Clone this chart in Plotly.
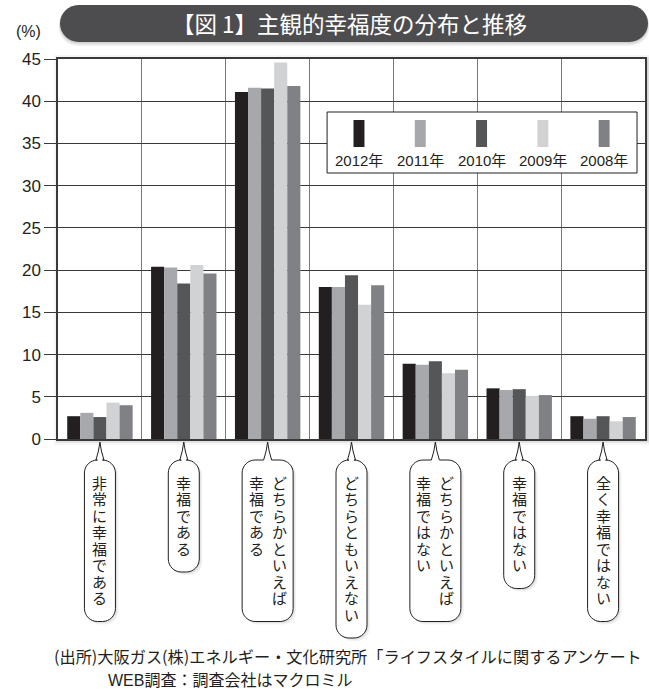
import plotly.graph_objects as go

# ---------------- data ----------------
categories = ["非常に幸福である", "幸福である", "どちらかといえば幸福である", "どちらともいえない",
              "どちらかといえば幸福ではない", "幸福ではない", "全く幸福ではない"]
# vertical label columns (first = rightmost, Japanese vertical writing)
label_columns = [["非常に幸福である"], ["幸福である"], ["どちらかといえば", "幸福である"],
                 ["どちらともいえない"], ["どちらかといえば", "幸福ではない"],
                 ["幸福ではない"], ["全く幸福ではない"]]
years = ["2012年", "2011年", "2010年", "2009年", "2008年"]
v2012 = [2.7, 20.4, 41.1, 18.0, 8.9, 6.0, 2.7]
v2011 = [3.1, 20.3, 41.6, 18.0, 8.8, 5.8, 2.4]
v2010 = [2.6, 18.4, 41.5, 19.4, 9.2, 5.9, 2.7]
v2009 = [4.3, 20.6, 44.6, 15.9, 7.8, 5.1, 2.1]
v2008 = [4.0, 19.6, 41.8, 18.2, 8.2, 5.2, 2.6]
series = [v2012, v2011, v2010, v2009, v2008]
colors = ["#231f20", "#a7a8ab", "#555658", "#d1d2d4", "#808184"]
y_ticks = [0, 5, 10, 15, 20, 25, 30, 35, 40, 45]

title = "【図 1】主観的幸福度の分布と推移"
unit = "(%)"
source1 = "(出所)大阪ガス(株)エネルギー・文化研究所「ライフスタイルに関するアンケート"
source2 = "WEB調査：調査会社はマクロミル"

# ---------------- layout geometry ----------------
W, H = 649, 689
ML, MR, MT, MB = 58, 2, 59, 250
PW, PH = W - ML - MR, H - MT - MB

def px2x(px):
    return (px - ML) / PW

def py2y(py):
    return (MT + PH - py) / PH

LATIN = "Liberation Sans, Noto Sans CJK JP, sans-serif"
CJK = "Noto Sans CJK JP, sans-serif"

fig = go.Figure()
for name, vals, col in zip(years, series, colors):
    fig.add_trace(go.Bar(x=categories, y=vals, name=name, marker=dict(color=col, line=dict(width=0)),
                         showlegend=False))

shapes = []
annotations = []

def rrect(x0, y0, x1, y1, r, pointer=False):
    k = 0.5523 * r
    if pointer:
        start = (f"M {x0+r},{y1} L -4,{y1} Q -1,{y1+9} 0,{y1+18} Q 1,{y1+9} 4,{y1} L {x1-r},{y1} ")
    else:
        start = f"M {x0+r},{y1} L {x1-r},{y1} "
    return (start +
            f"C {x1-r+k},{y1} {x1},{y1-r+k} {x1},{y1-r} L {x1},{y0+r} "
            f"C {x1},{y0+r-k} {x1-r+k},{y0} {x1-r},{y0} L {x0+r},{y0} "
            f"C {x0+r-k},{y0} {x0},{y0+r-k} {x0},{y0+r} L {x0},{y1-r} "
            f"C {x0},{y1-r+k} {x0+r-k},{y1} {x0+r},{y1} Z")

# plot area shadow + white background
for off, a in [(5, 0.04), (3, 0.06), (1.5, 0.08)]:
    shapes.append(dict(type="rect", xref="paper", yref="paper", xsizemode="pixel", ysizemode="pixel",
                       xanchor=0, yanchor=0, x0=-off + 1, x1=PW + off, y0=-off - 1, y1=PH + off - 1,
                       fillcolor=f"rgba(0,0,0,{a})", line=dict(width=0), layer="below"))
shapes.append(dict(type="rect", xref="paper", yref="paper", x0=0, x1=1, y0=0, y1=1,
                   fillcolor="white", line=dict(width=0), layer="below"))

# title pill (with soft shadow)
for off, a in [(4, 0.05), (2.5, 0.07), (1, 0.08)]:
    shapes.append(dict(type="path", xref="paper", yref="paper", xsizemode="pixel", ysizemode="pixel",
                       xanchor=0, yanchor=1,
                       path=rrect(2 - off * 0.3, 17 - off, 590 + off * 0.3, 54 - off * 0.3, 18.5),
                       fillcolor=f"rgba(0,0,0,{a})", line=dict(width=0), layer="above"))
shapes.append(dict(type="path", xref="paper", yref="paper", xsizemode="pixel", ysizemode="pixel",
                   xanchor=0, yanchor=1, path=rrect(2, 17, 590, 54, 18.5),
                   fillcolor="#4d4d4f", line=dict(width=0), layer="above"))
annotations.append(dict(text=title, xref="paper", yref="paper", x=px2x(350), y=py2y(23),
                        xanchor="center", yanchor="middle", showarrow=False,
                        font=dict(family=CJK, size=22.5, color="white")))
annotations.append(dict(text=unit, xref="paper", yref="paper", x=px2x(28), y=py2y(32),
                        xanchor="center", yanchor="middle", showarrow=False,
                        font=dict(family=LATIN, size=16, color="#231f20")))

# custom legend
shapes.append(dict(type="rect", xref="paper", yref="paper", x0=px2x(328), x1=px2x(639),
                   y0=py2y(173), y1=py2y(112), fillcolor="white",
                   line=dict(color="#231f20", width=1), layer="above"))
for i, (name, col) in enumerate(zip(years, colors)):
    cx = 360 + 61.5 * i
    shapes.append(dict(type="rect", xref="paper", yref="paper", x0=px2x(cx - 5.5), x1=px2x(cx + 5.5),
                       y0=py2y(147), y1=py2y(120), fillcolor=col, line=dict(width=0), layer="above"))
    annotations.append(dict(text=name, xref="paper", yref="paper", x=px2x(cx), y=py2y(160),
                            xanchor="center", yanchor="middle", showarrow=False,
                            font=dict(family=LATIN, size=15, color="#231f20")))

# speech-bubble vertical category labels (one text per character, stacked vertically)
LABEL_FONT = 15
PITCH = 16.5
FIRST = 43  # px below the x axis to the centre of the first character
for i, cols in enumerate(label_columns):
    n = max(len(c) for c in cols)
    hw = 15.5 if len(cols) == 1 else 25.5
    top = -21
    bottom = -FIRST - PITCH * (n - 1) - 24
    for off, a in [(3, 0.05), (1.5, 0.07)]:
        shapes.append(dict(type="path", xref="x", yref="paper", xsizemode="pixel", ysizemode="pixel",
                           xanchor=i, yanchor=0,
                           path=rrect(-hw + off, bottom - off, hw + off, top - off, 13, pointer=False),
                           fillcolor=f"rgba(0,0,0,{a})", line=dict(width=0), layer="above"))
    shapes.append(dict(type="path", xref="x", yref="paper", xsizemode="pixel", ysizemode="pixel",
                       xanchor=i, yanchor=0, path=rrect(-hw, bottom, hw, top, 13, pointer=True),
                       fillcolor="white", line=dict(color="#231f20", width=1), layer="above"))
    offsets = [0] if len(cols) == 1 else [11.5, -11.5]
    for col_text, xoff in zip(cols, offsets):
        for k, ch in enumerate(col_text):
            annotations.append(dict(text=ch, xref="x", yref="paper", x=i, y=0, xshift=xoff,
                                    yshift=-FIRST - PITCH * k, xanchor="center", yanchor="middle",
                                    showarrow=False, borderpad=0,
                                    font=dict(family=CJK, size=LABEL_FONT, color="#231f20")))

# source notes
annotations.append(dict(text=source1, xref="paper", yref="paper", x=px2x(52), y=py2y(656),
                        xanchor="left", yanchor="middle", showarrow=False,
                        font=dict(family=CJK, size=16.2, color="#231f20")))
annotations.append(dict(text=source2, xref="paper", yref="paper", x=px2x(106), y=py2y(680),
                        xanchor="left", yanchor="middle", showarrow=False,
                        font=dict(family=LATIN, size=16, color="#231f20")))

fig.update_layout(
    width=W, height=H, margin=dict(l=ML, r=MR, t=MT, b=MB),
    paper_bgcolor="white", plot_bgcolor="white",
    barmode="group", bargap=0.22, bargroupgap=0,
    shapes=shapes, annotations=annotations, showlegend=False,
    font=dict(family=LATIN, color="#231f20"),
)
fig.update_xaxes(type="category", tickson="boundaries", showgrid=True, gridcolor="#7a7a7a", gridwidth=1,
                 showticklabels=False, ticks="", showline=True, mirror=True, linecolor="#3a3a3a",
                 linewidth=1.5, zeroline=False)
fig.update_yaxes(range=[0, 45], tickvals=y_ticks, showgrid=True, gridcolor="#3a3a3a", gridwidth=1,
                 ticks="outside", ticklen=12, tickcolor="#3a3a3a", showline=True, mirror=True,
                 linecolor="#3a3a3a", linewidth=1.5, zeroline=False,
                 tickfont=dict(family=LATIN, size=17, color="#231f20"))

fig.write_html("out.html")
